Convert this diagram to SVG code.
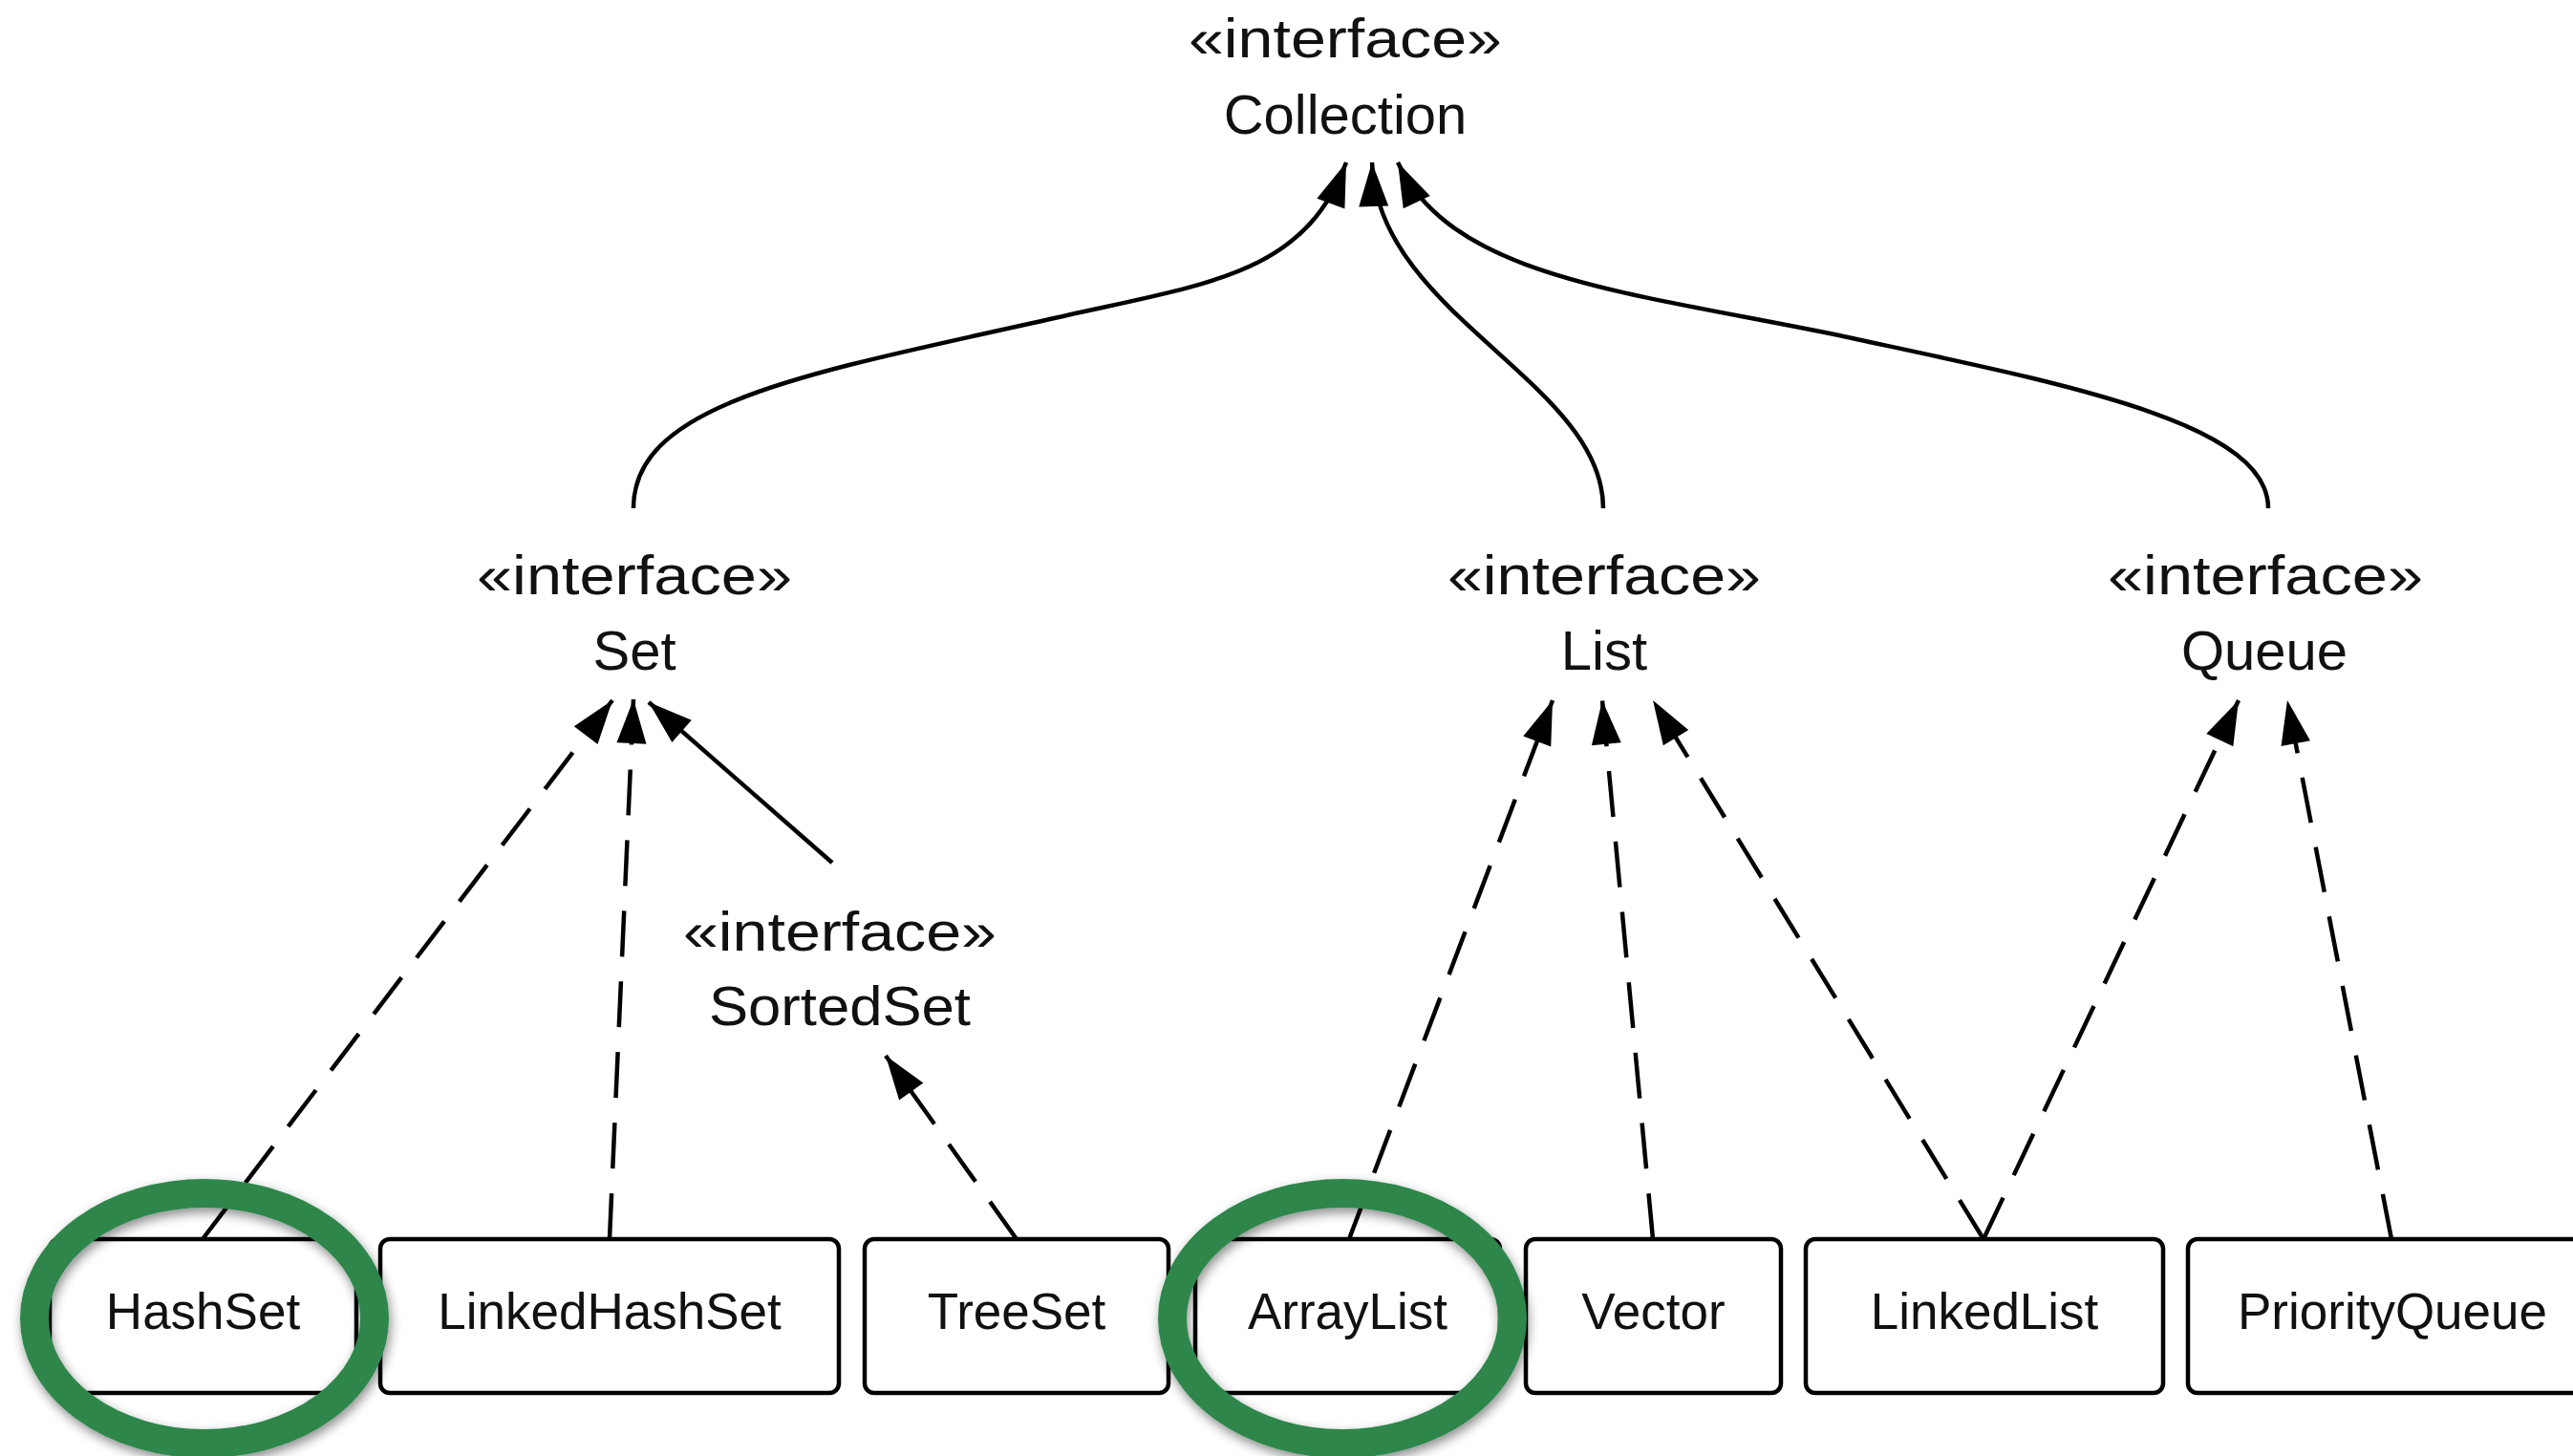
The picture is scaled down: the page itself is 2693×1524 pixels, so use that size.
<svg xmlns="http://www.w3.org/2000/svg" width="2693" height="1524" viewBox="0 0 2693 1524">
<style>
  .iface { font-family: "Liberation Sans", Arial, sans-serif; font-size: 58px; fill: #111; text-anchor: middle; }
  .box rect { fill: #fff; stroke: #000; stroke-width: 4.5; }
  .box text { font-family: "Liberation Sans", Arial, sans-serif; font-size: 53px; fill: #111; text-anchor: middle; }
  .conn path { fill: none; stroke: #000; stroke-width: 4.5; marker-end: url(#arr); }
  .conn .dash { stroke-dasharray: 48 26; }
  .ring { fill: none; stroke: #2d864b; stroke-width: 30; filter: url(#shadow); }
</style>
<defs>
  <marker id="arr" markerUnits="userSpaceOnUse" markerWidth="52" markerHeight="40" viewBox="-50 -20 52 40" refX="0" refY="0" orient="auto">
    <path d="M0,0 L-46,-15.5 L-46,15.5 Z" fill="#000"/>
  </marker>
  <filter id="shadow" x="-20%" y="-20%" width="140%" height="140%">
    <feDropShadow dx="2" dy="5" stdDeviation="6" flood-color="#000" flood-opacity="0.45"/>
  </filter>
</defs>
<rect width="2693" height="1524" fill="#fff"/>

<g id="connectors" class="conn">
  <path d="M663,532 C663,420 850,390 1117,330 C1270,296 1366,285 1409,170"/>
  <path d="M1678,532 C1678,400 1442,330 1436,170"/>
  <path d="M2374,532 C2374,440 2150,400 1920,350 C1700,305 1520,290 1463,170"/>
  <path class="dash" d="M212,1297 L641,733"/>
  <path class="dash" d="M638,1297 L663,732"/>
  <path d="M871,903 L679,735"/>
  <path class="dash" d="M1064,1297 L927,1105"/>
  <path class="dash" d="M1412,1297 L1625,733"/>
  <path class="dash" d="M1730,1297 L1677,733"/>
  <path class="dash" d="M2076,1297 L1730,733"/>
  <path class="dash" d="M2076,1297 L2343,733"/>
  <path class="dash" d="M2503,1297 L2394,733"/>
</g>

<g id="collection">
  <text class="iface" x="1408" y="60" textLength="328" lengthAdjust="spacingAndGlyphs">«interface»</text>
  <text class="iface" x="1408" y="140">Collection</text>
</g>
<g id="set">
  <text class="iface" x="664" y="622" textLength="330" lengthAdjust="spacingAndGlyphs">«interface»</text>
  <text class="iface" x="664" y="701">Set</text>
</g>
<g id="list">
  <text class="iface" x="1679" y="622" textLength="328" lengthAdjust="spacingAndGlyphs">«interface»</text>
  <text class="iface" x="1679" y="701">List</text>
</g>
<g id="queue">
  <text class="iface" x="2371" y="622" textLength="330" lengthAdjust="spacingAndGlyphs">«interface»</text>
  <text class="iface" x="2370" y="701">Queue</text>
</g>
<g id="sortedset">
  <text class="iface" x="879" y="995" textLength="328" lengthAdjust="spacingAndGlyphs">«interface»</text>
  <text class="iface" x="879" y="1073" textLength="274" lengthAdjust="spacingAndGlyphs">SortedSet</text>
</g>

<g id="hashset" class="box">
  <rect x="52" y="1297" width="321" height="161" rx="10"/>
  <text x="212.5" y="1391">HashSet</text>
</g>
<g id="linkedhashset" class="box">
  <rect x="398" y="1297" width="480" height="161" rx="10"/>
  <text x="638" y="1391">LinkedHashSet</text>
</g>
<g id="treeset" class="box">
  <rect x="905" y="1297" width="318" height="161" rx="10"/>
  <text x="1064" y="1391">TreeSet</text>
</g>
<g id="arraylist" class="box">
  <rect x="1251" y="1297" width="319" height="161" rx="10"/>
  <text x="1410.5" y="1391">ArrayList</text>
</g>
<g id="vector" class="box">
  <rect x="1597" y="1297" width="267" height="161" rx="10"/>
  <text x="1730.5" y="1391">Vector</text>
</g>
<g id="linkedlist" class="box">
  <rect x="1890" y="1297" width="374" height="161" rx="10"/>
  <text x="2077" y="1391">LinkedList</text>
</g>
<g id="priorityqueue" class="box">
  <rect x="2290" y="1297" width="428" height="161" rx="10"/>
  <text x="2504" y="1391">PriorityQueue</text>
</g>

<g id="highlights">
  <ellipse class="ring" cx="214" cy="1380" rx="178" ry="131"/>
  <ellipse class="ring" cx="1405" cy="1380" rx="178" ry="131"/>
</g>
</svg>
